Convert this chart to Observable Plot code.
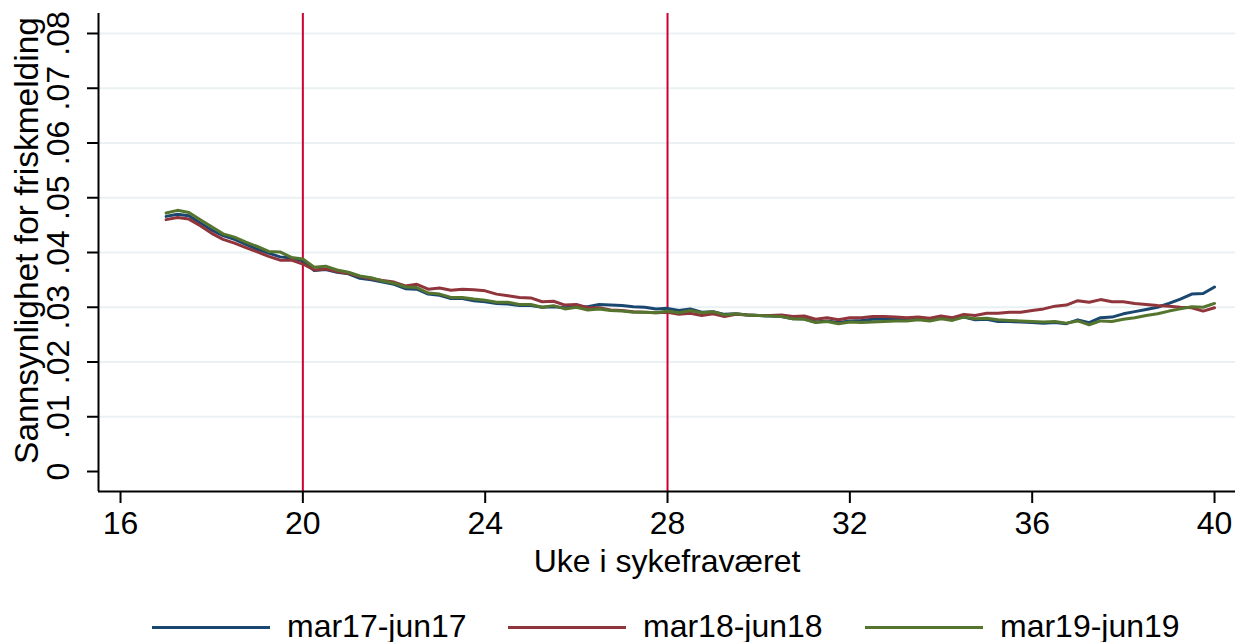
<!DOCTYPE html>
<html>
<head>
<meta charset="utf-8">
<script src="https://cdn.jsdelivr.net/npm/d3@7"></script>
<script src="https://cdn.jsdelivr.net/npm/@observablehq/plot@0.6"></script>
<style>
  body { margin: 0; background: #fff; font-family: "Liberation Sans", Arial, Helvetica, sans-serif; }
  #chart svg { display: block; }
  #legend { position: relative; width: 1235px; height: 42px; font-size: 32px; color: #000; }
  #legend .ln { position: absolute; height: 3px; top: 26px; }
  #legend .tx { position: absolute; top: 11px; line-height: 30px; white-space: nowrap; }
</style>
</head>
<body>
<div id="chart"></div>
<div id="legend"></div>
<script>
// ---- data ----
const seriesNames = ["mar17-jun17", "mar18-jun18", "mar19-jun19"];
const seriesColors = ["#1a476f", "#90353b", "#55752f"];
const weeks = d3.range(17, 40.001, 0.25);

const mar17 = [
  .0466, .0470, .0467, .0454, .0441, .0431, .0424, .0415, .0406, .0399, .0392, .0390,
  .0385, .0367, .0369, .0364, .0361, .0353, .0350, .0346, .0342, .0334, .0333, .0324,
  .0322, .0316, .0316, .0312, .0310, .0307, .0306, .0303, .0303, .0300, .0301, .0299,
  .0301, .0301, .0305, .0304, .0303, .0301, .0300, .0297, .0298, .0294, .0297, .0291,
  .0292, .0287, .0288, .0286, .0285, .0284, .0283, .0279, .0279, .0273, .0275, .0272,
  .0275, .0276, .0278, .0278, .0279, .0279, .0280, .0278, .0282, .0279, .0282, .0277,
  .0278, .0274, .0274, .0273, .0272, .0271, .0272, .0270, .0277, .0272, .0281, .0282,
  .0288, .0292, .0296, .0300, .0307, .0315, .0324, .0325, .0337
];
const mar18 = [
  .0460, .0464, .0461, .0449, .0435, .0424, .0417, .0409, .0401, .0393, .0386, .0386,
  .0379, .0368, .0370, .0365, .0362, .0356, .0352, .0349, .0346, .0339, .0342, .0333,
  .0335, .0331, .0333, .0332, .0330, .0324, .0321, .0318, .0317, .0310, .0311, .0304,
  .0305, .0299, .0299, .0295, .0294, .0292, .0291, .0290, .0291, .0287, .0289, .0285,
  .0288, .0283, .0287, .0286, .0285, .0285, .0286, .0283, .0284, .0278, .0281, .0277,
  .0281, .0281, .0283, .0283, .0282, .0281, .0282, .0280, .0284, .0281, .0287, .0285,
  .0289, .0289, .0291, .0291, .0294, .0297, .0302, .0304, .0312, .0309, .0314, .0310,
  .0310, .0307, .0305, .0303, .0302, .0300, .0299, .0293, .0299
];
const mar19 = [
  .0472, .0477, .0473, .0460, .0447, .0434, .0428, .0419, .0411, .0402, .0401, .0391,
  .0388, .0373, .0375, .0368, .0364, .0357, .0354, .0348, .0344, .0337, .0336, .0326,
  .0324, .0318, .0318, .0315, .0313, .0309, .0309, .0305, .0305, .0300, .0303, .0297,
  .0300, .0295, .0297, .0294, .0293, .0291, .0291, .0290, .0293, .0290, .0294, .0290,
  .0292, .0286, .0288, .0286, .0285, .0284, .0283, .0279, .0278, .0272, .0274, .0270,
  .0273, .0272, .0273, .0274, .0275, .0275, .0277, .0275, .0279, .0276, .0282, .0279,
  .0280, .0277, .0276, .0275, .0274, .0273, .0274, .0271, .0275, .0268, .0275, .0274,
  .0278, .0281, .0285, .0288, .0293, .0297, .0301, .0300, .0307
];
const seriesValues = [mar17, mar18, mar19];

const xTicks = [16, 20, 24, 28, 32, 36, 40];
const yTicks = [0, .01, .02, .03, .04, .05, .06, .07, .08];
const gridTicks = [.01, .02, .03, .04, .05, .06, .07, .08];
const markerWeeks = [20, 28];
const xLabel = "Uke i sykefraværet";
const yLabel = "Sannsynlighet for friskmelding";

// ---- build table ----
const rows = seriesNames.flatMap((name, i) =>
  weeks.map((w, j) => ({ series: name, week: w, value: seriesValues[i][j] }))
);

const xDomain = [15.517, 40.46];
const yDomain = [-0.00365, 0.08365];
const fmtY = d => d === 0 ? "0" : d3.format(".2f")(d).replace(/^0/, "");
const FONT = 32;

const chart = Plot.plot({
  width: 1235,
  height: 600,
  marginLeft: 98,
  marginRight: 0,
  marginTop: 13,
  marginBottom: 109,
  style: { fontFamily: "'Liberation Sans', Arial, Helvetica, sans-serif", background: "#fff", color: "#000" },
  x: { domain: xDomain },
  y: { domain: yDomain },
  color: { domain: seriesNames, range: seriesColors },
  marks: [
    Plot.gridY(gridTicks, { stroke: "#eaf1f3", strokeOpacity: 1, strokeWidth: 2 }),
    Plot.ruleX(markerWeeks, { stroke: "#cc0033", strokeWidth: 2 }),
    ...seriesNames.map((name, i) =>
      Plot.line(rows.filter(d => d.series === name), {
        x: "week", y: "value", stroke: seriesColors[i], strokeWidth: 3, strokeLinejoin: "round"
      })
    ),
    // axes lines
    Plot.ruleX([xDomain[0]], { stroke: "#000", strokeWidth: 2 }),
    Plot.ruleY([yDomain[0]], { stroke: "#000", strokeWidth: 2 }),
    // ticks
    Plot.axisY({ ticks: yTicks, tickSize: 11, tickFormat: () => "", label: null, strokeWidth: 2 }),
    Plot.axisX({ ticks: xTicks, tickSize: 12, tickFormat: () => "", label: null, strokeWidth: 2 }),
    // tick labels
    Plot.text(yTicks, {
      y: d => d, text: fmtY, frameAnchor: "left", dx: -40, rotate: -90,
      textAnchor: "middle", lineAnchor: "middle", fontSize: FONT, fill: "#000"
    }),
    Plot.text(xTicks, {
      x: d => d, text: d => String(d), frameAnchor: "bottom", dy: 32,
      textAnchor: "middle", lineAnchor: "middle", fontSize: FONT, fill: "#000"
    }),
    // axis titles
    Plot.text([xLabel], {
      text: d => d, frameAnchor: "bottom", dy: 70, textAnchor: "middle",
      lineAnchor: "middle", fontSize: FONT, fill: "#000"
    }),
    Plot.text([yLabel], {
      text: d => d, frameAnchor: "left", dx: -71, dy: -12, rotate: -90, textAnchor: "middle",
      lineAnchor: "middle", fontSize: 33.5, fill: "#000"
    })
  ]
});
document.getElementById("chart").appendChild(chart);

// ---- legend ----
const legend = document.getElementById("legend");
const legendLeft = [152, 508, 865];
seriesNames.forEach((name, i) => {
  const ln = document.createElement("div");
  ln.className = "ln";
  ln.style.left = legendLeft[i] + "px";
  ln.style.width = "118px";
  ln.style.background = seriesColors[i];
  legend.appendChild(ln);
  const tx = document.createElement("span");
  tx.className = "tx";
  tx.style.left = (legendLeft[i] + 135) + "px";
  tx.textContent = name;
  legend.appendChild(tx);
});
</script>
</body>
</html>
